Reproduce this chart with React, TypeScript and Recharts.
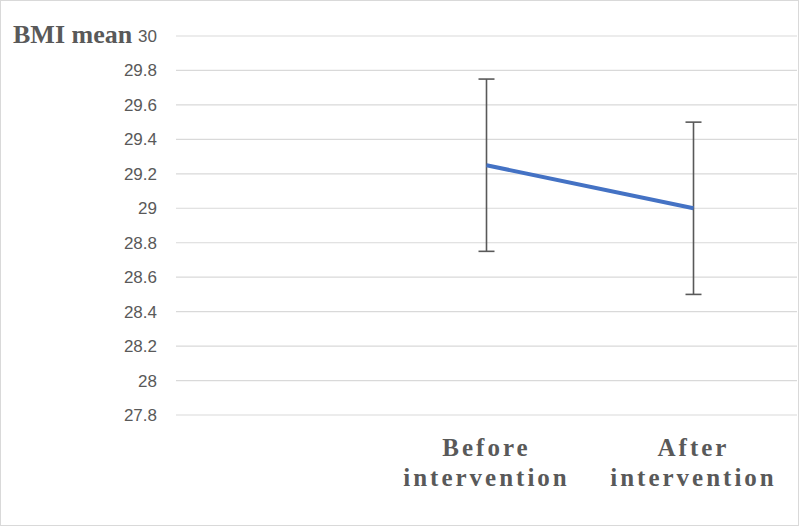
import { CartesianGrid, ErrorBar, Line, LineChart, XAxis, YAxis } from 'recharts'

const categories = ['', 'Before intervention', 'After intervention']
const bmiMean = [null, 29.25, 29.0]
const bmiError = [null, 0.5, 0.5]
const yTicks = [27.8, 28, 28.2, 28.4, 28.6, 28.8, 29, 29.2, 29.4, 29.6, 29.8, 30]

const data = categories.map((name, i) => ({ name, mean: bmiMean[i], err: bmiError[i] }))

const serif = '"Liberation Serif", "Times New Roman", serif'

function CategoryTick({ x, y, payload }: any) {
  const words = String(payload.value).split(' ').filter(Boolean)
  return (
    <g>
      {words.map((w, i) => (
        <text
          key={i}
          x={x}
          y={y + 41 + i * 30}
          textAnchor="middle"
          fontFamily={serif}
          fontWeight="bold"
          fontSize={25}
          letterSpacing={3}
          fill="#595959"
        >
          {w}
        </text>
      ))}
    </g>
  )
}

export default function App() {
  return (
    <div
      style={{
        position: 'absolute',
        left: 0,
        top: 0,
        width: 799,
        height: 526,
        boxSizing: 'border-box',
        border: '1px solid #d9d9d9',
        background: '#fff',
      }}
    >
      <div
        style={{
          position: 'absolute',
          left: 12,
          top: 21,
          fontFamily: serif,
          fontWeight: 'bold',
          fontSize: 26,
          lineHeight: '25px',
          color: '#595959',
          whiteSpace: 'nowrap',
        }}
      >
        BMI mean
      </div>
      <LineChart width={797} height={524} data={data} margin={{ top: 35, right: 1, bottom: 0, left: 115 }}>
        <CartesianGrid vertical={false} stroke="#d9d9d9" strokeWidth={1.2} />
        <XAxis
          dataKey="name"
          scale="band"
          axisLine={false}
          tickLine={false}
          tickSize={0}
          tickMargin={0}
          interval={0}
          tick={<CategoryTick />}
          height={110}
        />
        <YAxis
          domain={[27.8, 30]}
          ticks={yTicks}
          interval={0}
          width={60}
          axisLine={false}
          tickLine={false}
          tickMargin={13}
          tick={{ fill: '#595959', fontSize: 17, fontFamily: '"Liberation Sans", Arial, sans-serif' }}
        />
        <Line
          type="linear"
          dataKey="mean"
          stroke="#4472c4"
          strokeWidth={4}
          dot={false}
          activeDot={false}
          isAnimationActive={false}
        >
          <ErrorBar dataKey="err" width={8} stroke="#595959" strokeWidth={1.6} direction="y" />
        </Line>
      </LineChart>
    </div>
  )
}
